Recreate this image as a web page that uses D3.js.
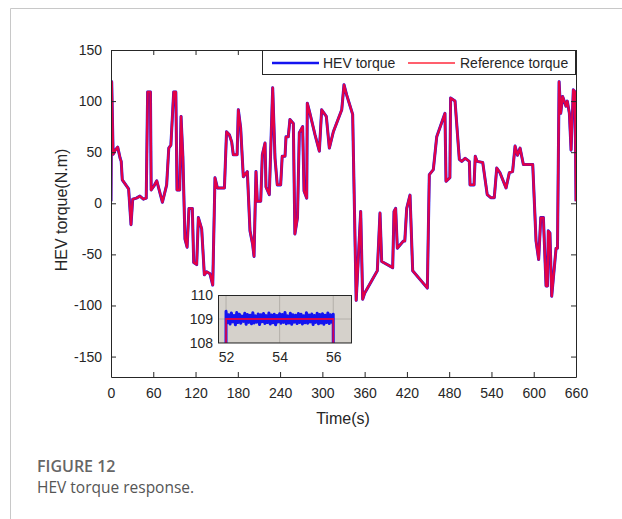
<!DOCTYPE html>
<html>
<head>
<meta charset="utf-8">
<script src="https://cdn.jsdelivr.net/npm/d3@7"></script>
<style>
  html, body { margin: 0; padding: 0; background: #fff; }
  svg { display: block; }
</style>
</head>
<body>
<svg id="chart" width="622" height="519"></svg>
<script>
// Drive-cycle torque: sample times (s) and reference torque (N.m)
const time = [0, 1, 3, 6, 9.5, 13, 14.5, 16, 22, 25, 28.4, 30.8, 36, 41, 46, 50, 52, 56, 57, 61,
  65, 73, 79, 82, 85, 89, 92, 93.7, 97.5, 99.4, 102, 105, 108, 110.7, 115.4, 117.4, 121.6, 124, 128.7, 132.5,
  135.8, 140.5, 144.4, 147.6, 151, 161, 164, 168, 171.3, 173.6, 179, 180.7, 184, 187.8, 193.5, 197.3, 201, 203, 205.8, 207.7,
  212.5, 214.8, 218.6, 220, 224.7, 229.5, 232.8, 236, 240.8, 243, 247, 248.4, 251.6, 254, 258.8, 261, 264.7, 267.3, 272, 274,
  277.8, 278.6, 282, 289.6, 295.7, 299, 305.6, 309.9, 315.6, 327.5, 330.7, 334.5, 343, 348, 354.4, 357.2, 360, 378, 381.8, 384.2,
  399.8, 401.7, 404, 406.4, 415, 417, 419.7, 424.4, 428.2, 449, 451.8, 457.5, 462.3, 474, 475.5, 481, 482, 488.3, 494.4, 497.8,
  502.5, 508.6, 509.6, 515.3, 517, 519.6, 527.6, 534, 539, 544, 547.5, 552, 560.7, 565.4, 570, 573.5, 577, 580.6, 585.3, 598.6,
  603.3, 607, 610, 613.7, 617.5, 619.5, 620.7, 623, 625.5, 631.7, 633.7, 636, 638.3, 641, 645.8, 647.6, 650.6, 653, 656.2, 658.6, 660];

const refTorque = [2, 119, 48, 52, 55, 44, 41, 23, 17, 14, -21, 4, 5, 7, 4, 5, 109, 109, 13, 17,
  22, 1, 18, 54, 57, 109, 109, 13, 13, 85, 46, -35, -43, -5, -5, -58, -60, -14, -25, -70,
  -67, -69, -80, 25, 15, 15, 70, 67, 60, 47.5, 47.5, 91.5, 74, 26, 31, -27, -40, -52, 31, 2,
  2, 47.5, 59, 16, 8.5, 113, 44, 18, 18, 46, 46, 65, 65, 82, 78, -30, -14, 69, 75, 12,
  5, 98, 89, 67, 51, 91.5, 85, 54, 70, 91.5, 116, 106, 87, -95, -8, -94, -88, -66, -9.5, -57,
  -63, -8, -5, -44, -37, -37, -5, 8, -66, -83, 28, 33, 65, 88, 21.5, 25, 103, 100, 43, 41,
  44, 41, 18, 18, 46, 41, 40, 8.5, 5.5, 5.5, 34.5, 30, 15, 30, 31, 56, 47, 54, 38, 38,
  -37, -55, -14, -14, -81, -81, -27, -29, -91, -44, -44, 119, 88, 104.5, 95, 100, 88, 52, 111, 109, 2];

// The controlled torque follows the reference closely at full scale
const hevTorque = refTorque.slice();

// Close-up window 52-56 s: measured torque ripple around the 109 N.m set-point
const insetStart = 52, insetStep = 0.05;
const insetHev = [109.32, 108.84, 109.18, 108.79, 109.25, 108.88, 109.15, 108.76, 109.27, 108.85,
  109.2, 108.82, 109.12, 108.9, 109.24, 108.78, 109.19, 108.86, 109.16, 108.8,
  109.26, 108.83, 109.13, 108.87, 109.21, 108.77, 109.18, 108.89, 109.23, 108.81,
  109.14, 108.85, 109.25, 108.79, 109.17, 108.84, 109.2, 108.76, 109.15, 108.88,
  109.22, 108.82, 109.19, 108.86, 109.27, 108.8, 109.13, 108.83, 109.24, 108.78,
  109.18, 108.87, 109.16, 108.81, 109.23, 108.85, 109.2, 108.79, 109.14, 108.84,
  109.26, 108.82, 109.17, 108.88, 109.21, 108.77, 109.15, 108.86, 109.24, 108.8,
  109.19, 108.83, 109.22, 108.78, 109.16, 108.85, 109.25, 108.81, 109.18, 108.87, 109.2];
const insetRefTime = [51.99, 52, 56, 56.01];
const insetRef = [100, 109, 109, 100];

const xTicks = [0, 60, 120, 180, 240, 300, 360, 420, 480, 540, 600, 660];
const yTicks = [-150, -100, -50, 0, 50, 100, 150];
const insetXTicks = [52, 54, 56];
const insetYTicks = [108, 109, 110];
const legendLabels = ["HEV torque", "Reference torque"];

const BLUE = "#1414f0", RED = "#f2003a";
const AXIS = "#262626";
const FONT = "'Liberation Sans', Arimo, Arial, Helvetica, sans-serif";
const fmt = d => String(d); // plain hyphen-minus, no decimals

const svg = d3.select("#chart");

// Figure card frame
svg.append("path")
  .attr("d", "M10.5,519 V8.5 H622")
  .attr("fill", "none").attr("stroke", "#c8c8c8").attr("stroke-width", 1);

// ---------- main axes ----------
const x = d3.scaleLinear().domain([0, 660]).range([111, 576]);
const y = d3.scaleLinear().domain([-170, 150]).range([377, 50]);

svg.append("clipPath").attr("id", "plotClip")
  .append("rect").attr("x", 111).attr("y", 50).attr("width", 465).attr("height", 327);

const line = d3.line().x((d, i) => x(time[i])).y(d => y(d));

const plot = svg.append("g").attr("clip-path", "url(#plotClip)");
plot.append("path").datum(hevTorque).attr("d", line)
  .attr("fill", "none").attr("stroke", BLUE).attr("stroke-width", 3).attr("stroke-linejoin", "round");
plot.append("path").datum(refTorque).attr("d", line)
  .attr("fill", "none").attr("stroke", RED).attr("stroke-width", 2.4).attr("stroke-opacity", 0.93).attr("stroke-linejoin", "round");

function styleAxis(g, showLabels) {
  g.attr("font-family", null);
  g.select(".domain").attr("stroke", AXIS).attr("stroke-width", 1);
  g.selectAll(".tick line").attr("stroke", AXIS);
  g.selectAll(".tick text").attr("fill", AXIS).style("font-family", FONT).style("font-size", "14px");
  if (!showLabels) g.selectAll(".tick text").remove();
}

svg.append("g").attr("transform", "translate(0,377)")
  .call(d3.axisBottom(x).tickValues(xTicks).tickFormat(fmt).tickSizeInner(-5).tickSizeOuter(0).tickPadding(11))
  .call(g => styleAxis(g, true));
svg.append("g").attr("transform", "translate(0,50)")
  .call(d3.axisTop(x).tickValues(xTicks).tickSizeInner(-5).tickSizeOuter(0))
  .call(g => styleAxis(g, false));
svg.append("g").attr("transform", "translate(111,0)")
  .call(d3.axisLeft(y).tickValues(yTicks).tickFormat(fmt).tickSizeInner(-5).tickSizeOuter(0).tickPadding(9))
  .call(g => styleAxis(g, true));
svg.append("g").attr("transform", "translate(576,0)")
  .call(d3.axisRight(y).tickValues(yTicks).tickSizeInner(-5).tickSizeOuter(0))
  .call(g => styleAxis(g, false));

// Axis titles
svg.append("text").attr("x", 343).attr("y", 424).attr("text-anchor", "middle")
  .style("font-family", FONT).style("font-size", "16px").attr("fill", AXIS).text("Time(s)");
svg.append("text").attr("transform", "translate(67,210) rotate(-90)").attr("text-anchor", "middle")
  .style("font-family", FONT).style("font-size", "16px").attr("fill", AXIS).text("HEV torque(N.m)");

// Legend
const leg = svg.append("g");
leg.append("rect").attr("x", 262.5).attr("y", 50.5).attr("width", 313).attr("height", 24)
  .attr("fill", "#fff").attr("stroke", AXIS).attr("stroke-width", 1);
leg.append("line").attr("x1", 272).attr("x2", 319).attr("y1", 63).attr("y2", 63)
  .attr("stroke", BLUE).attr("stroke-width", 2.6);
leg.append("text").attr("x", 323).attr("y", 68).style("font-family", FONT).style("font-size", "14px")
  .attr("fill", AXIS).text(legendLabels[0]);
leg.append("line").attr("x1", 408).attr("x2", 455).attr("y1", 63).attr("y2", 63)
  .attr("stroke", "#ff2a3c").attr("stroke-width", 1.6);
leg.append("text").attr("x", 460).attr("y", 68).style("font-family", FONT).style("font-size", "14px")
  .attr("fill", AXIS).text(legendLabels[1]);

// ---------- inset close-up ----------
const ix = d3.scaleLinear().domain([51.7, 56.7]).range([218, 352]);
const iy = d3.scaleLinear().domain([108, 110]).range([343, 295]);

svg.append("rect").attr("x", 218).attr("y", 295).attr("width", 134).attr("height", 48)
  .attr("fill", "#d5d1cb");
svg.append("clipPath").attr("id", "insetClip")
  .append("rect").attr("x", 218).attr("y", 295).attr("width", 134).attr("height", 48);

const inset = svg.append("g").attr("clip-path", "url(#insetClip)");
// grid
inset.selectAll("line.gx").data(insetXTicks).join("line")
  .attr("x1", d => ix(d)).attr("x2", d => ix(d)).attr("y1", 295).attr("y2", 343)
  .attr("stroke", "#b4b0aa").attr("stroke-width", 1);
inset.selectAll("line.gy").data(insetYTicks).join("line")
  .attr("y1", d => iy(d)).attr("y2", d => iy(d)).attr("x1", 218).attr("x2", 352)
  .attr("stroke", "#b4b0aa").attr("stroke-width", 1);

const hevInsetPts = insetHev.map((v, i) => [insetStart + i * insetStep, v]);
hevInsetPts.unshift([insetStart - 0.005, 100]);
hevInsetPts.push([insetStart + (insetHev.length - 1) * insetStep + 0.005, 100]);
inset.append("path").datum(hevInsetPts)
  .attr("d", d3.line().x(d => ix(d[0])).y(d => iy(d[1])))
  .attr("fill", "none").attr("stroke", BLUE).attr("stroke-width", 3).attr("stroke-linejoin", "round");
inset.append("path").datum(insetRef)
  .attr("d", d3.line().x((d, i) => ix(insetRefTime[i])).y(d => iy(d)))
  .attr("fill", "none").attr("stroke", RED).attr("stroke-width", 1.8).attr("stroke-opacity", 0.85);

svg.append("rect").attr("x", 218.5).attr("y", 295.5).attr("width", 133).attr("height", 47.5)
  .attr("fill", "none").attr("stroke", AXIS).attr("stroke-width", 1);

svg.append("g").attr("transform", "translate(0,343)")
  .call(d3.axisBottom(ix).tickValues(insetXTicks).tickFormat(fmt).tickSize(0).tickPadding(9))
  .call(g => { styleAxis(g, true); g.select(".domain").remove(); });
svg.append("g").attr("transform", "translate(218,0)")
  .call(d3.axisLeft(iy).tickValues(insetYTicks).tickFormat(fmt).tickSize(0).tickPadding(5))
  .call(g => { styleAxis(g, true); g.select(".domain").remove(); });

// ---------- caption ----------
svg.append("text").attr("x", 37).attr("y", 472)
  .style("font-family", "'Open Sans', 'Noto Sans', sans-serif").style("font-size", "16px").style("font-weight", 600)
  .attr("fill", "#666").text("FIGURE 12");
svg.append("text").attr("x", 37).attr("y", 493)
  .style("font-family", "'Open Sans', 'Noto Sans', sans-serif").style("font-size", "15.5px")
  .attr("fill", "#555").text("HEV torque response.");
</script>
</body>
</html>
